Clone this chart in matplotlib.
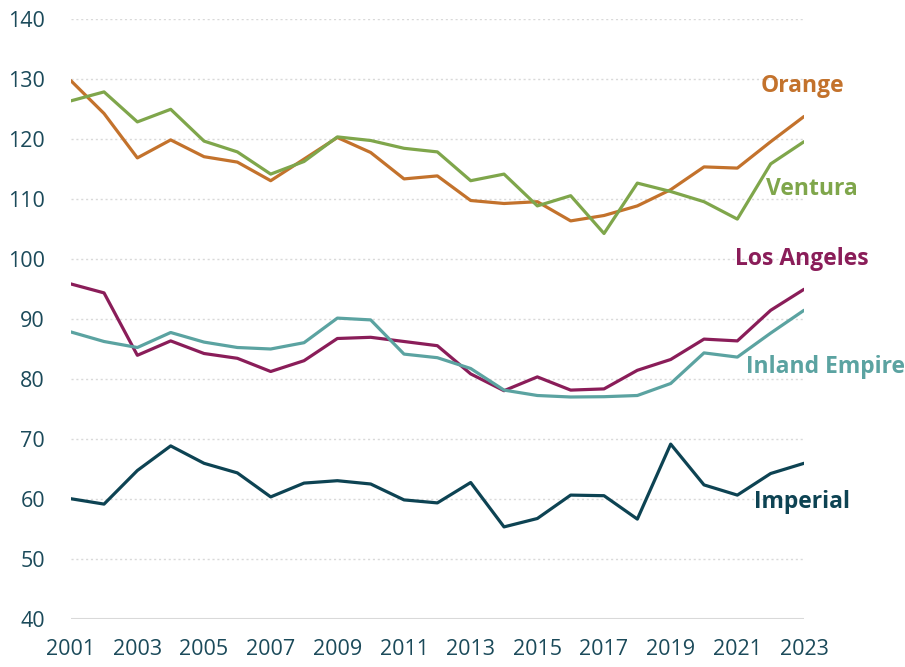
import matplotlib
matplotlib.use("Agg")
import matplotlib.pyplot as plt

years = list(range(2001, 2024))
orange = [129.8, 124.3, 116.9, 119.9, 117.1, 116.2, 113.1, 116.7, 120.3, 117.8, 113.4, 113.9,
          109.8, 109.3, 109.6, 106.4, 107.3, 108.9, 111.6, 115.4, 115.2, 119.6, 123.8]
ventura = [126.4, 127.9, 122.9, 125.0, 119.7, 117.9, 114.2, 116.3, 120.4, 119.8, 118.5, 117.9,
           113.1, 114.2, 108.9, 110.6, 104.3, 112.7, 111.3, 109.6, 106.7, 115.9, 119.6]
los_angeles = [95.9, 94.4, 84.0, 86.4, 84.3, 83.5, 81.3, 83.1, 86.8, 87.0, 86.3, 85.6,
               80.9, 78.1, 80.4, 78.2, 78.4, 81.5, 83.3, 86.7, 86.4, 91.5, 95.0]
inland_empire = [87.9, 86.3, 85.3, 87.8, 86.2, 85.3, 85.05, 86.1, 90.2, 89.9, 84.2, 83.6,
                 81.8, 78.2, 77.3, 77.05, 77.1, 77.3, 79.3, 84.4, 83.7, 87.7, 91.5]
imperial = [60.1, 59.2, 64.8, 68.9, 66.0, 64.4, 60.4, 62.7, 63.1, 62.55, 59.9, 59.4,
            62.8, 55.4, 56.8, 60.7, 60.6, 56.7, 69.2, 62.4, 60.7, 64.3, 66.0]
yticks = [40, 50, 60, 70, 80, 90, 100, 110, 120, 130, 140]
xticks = list(range(2001, 2024, 2))

series = [
    ("Orange", orange, "#C3722C", (2022.94, 127.93)),
    ("Ventura", ventura, "#7FA64B", (2023.24, 110.72)),
    ("Los Angeles", los_angeles, "#8A1D59", (2022.93, 99.05)),
    ("Inland Empire", inland_empire, "#5BA3A1", (2023.66, 81.0)),
    ("Imperial", imperial, "#0D4353", (2022.94, 58.5)),
]

plt.rcParams['font.family'] = ['Open Sans', 'DejaVu Sans']
fig = plt.figure(figsize=(9.05, 6.67), dpi=100)
ax = fig.add_axes([70.7 / 905, (667 - 619.3) / 667, (804 - 70.7) / 905, 600 / 667])

for y in yticks[1:]:
    ax.axhline(y, color="#D9D9D9", lw=1.0, ls=(0, (1.5, 2.0)), zorder=0)
ax.axhline(40, color="#D9D9D9", lw=1.5, zorder=0)

for name, vals, col, pos in series:
    ax.plot(years, vals, color=col, lw=2.3, solid_capstyle="round", solid_joinstyle="round", zorder=3)
    ax.text(pos[0], pos[1], name, color=col, fontsize=16.5, fontweight="bold",
            ha="center", va="baseline", clip_on=False)

ax.set_xlim(2001, 2023)
ax.set_ylim(40, 140)
ax.set_yticks(yticks)
ax.set_xticks(xticks)
ax.set_xticklabels([str(x) for x in xticks])
ax.tick_params(axis="both", length=0, colors="#1B4A5A", labelsize=15.5)
ax.tick_params(axis="y", pad=18.5)
ax.tick_params(axis="x", pad=14)
for s in ax.spines.values():
    s.set_visible(False)

fig.savefig("out.png", dpi=100, facecolor="white")
